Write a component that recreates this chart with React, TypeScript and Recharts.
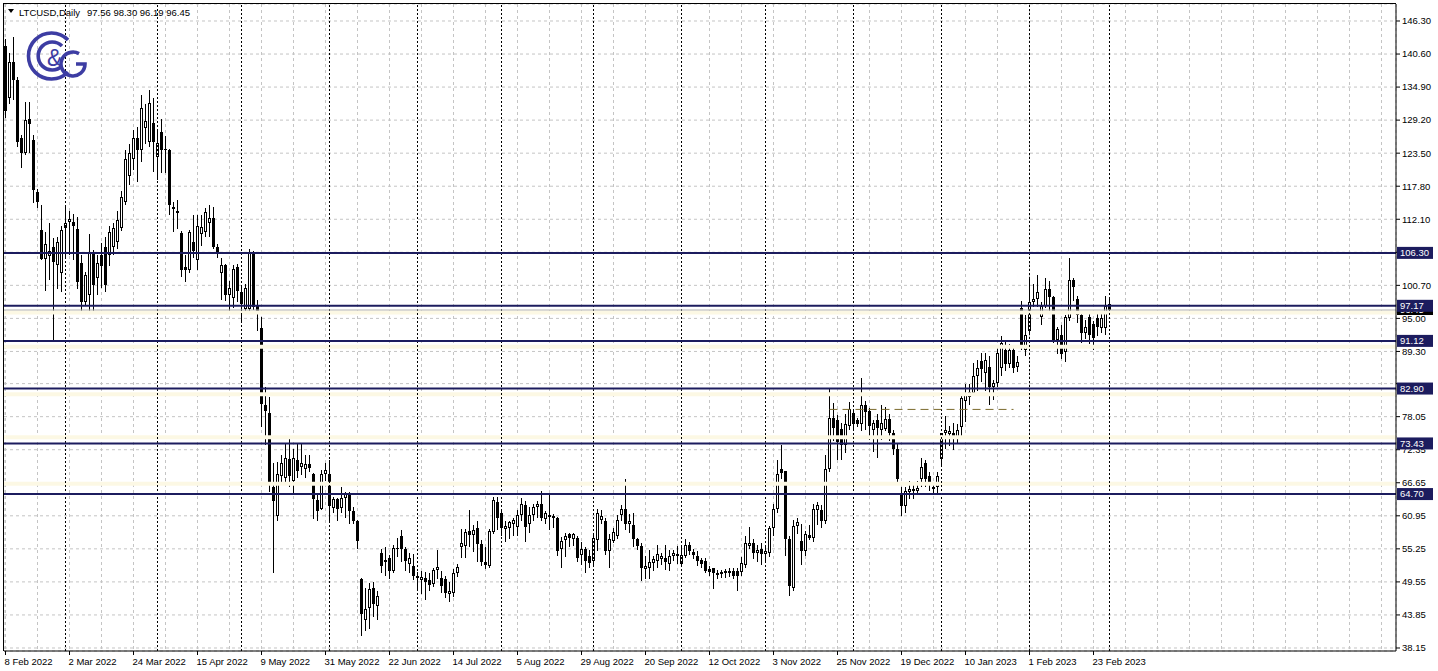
import React from 'react';
import { ComposedChart, Bar, XAxis, YAxis, CartesianGrid, ReferenceLine } from 'recharts';

const FONT = '"Liberation Sans", Arial, sans-serif';
const NAVY = '#1c1c5e';

// time axis labels, one every 16 daily bars (weekdays only)
const dateLabels = [
  '8 Feb 2022', '2 Mar 2022', '24 Mar 2022', '15 Apr 2022', '9 May 2022', '31 May 2022',
  '22 Jun 2022', '14 Jul 2022', '5 Aug 2022', '29 Aug 2022', '20 Sep 2022', '12 Oct 2022',
  '3 Nov 2022', '25 Nov 2022', '19 Dec 2022', '10 Jan 2023', '1 Feb 2023', '23 Feb 2023',
];

const opens = [
  142.0, 133.0, 139.2, 136.1, 126.1, 123.5, 129.4, 125.8, 116.8, 110.2,
  105.3, 105.8, 107.3, 104.2, 102.8, 110.6, 111.7, 111.6, 110.4, 104.5,
  97.8, 99.0, 106.4, 101.9, 105.9, 107.3, 105.9, 107.3, 108.1, 110.6,
  115.0, 119.5, 122.5, 126.1, 124.0, 127.9, 125.4, 128.7, 122.8, 127.1,
  124.3, 124.0, 114.2, 113.6, 109.7, 103.8, 103.3, 108.1, 105.0, 109.6,
  109.9, 111.4, 112.4, 107.3, 102.8, 104.2, 99.0, 98.5, 103.8, 99.5,
  96.7, 96.7, 106.4, 97.2, 93.4, 80.0, 78.6, 66.0, 61.0, 67.9,
  67.5, 70.8, 67.0, 70.5, 69.3, 69.0, 69.9, 68.2, 63.6, 62.2,
  68.2, 68.2, 62.3, 63.9, 62.3, 64.0, 64.8, 61.8, 60.1, 50.1,
  42.9, 45.1, 48.5, 45.4, 54.6, 52.9, 53.6, 51.5, 55.2, 57.5,
  55.3, 52.7, 52.3, 50.5, 49.9, 50.2, 49.8, 49.2, 51.6, 50.3,
  50.0, 47.5, 47.7, 51.0, 55.5, 55.8, 58.3, 57.7, 58.9, 56.1,
  52.9, 52.3, 58.1, 63.3, 61.4, 58.6, 58.8, 59.5, 59.1, 61.1,
  62.8, 59.5, 61.1, 62.4, 63.0, 60.4, 61.1, 60.5, 60.6, 55.3,
  56.8, 57.8, 57.0, 57.2, 54.2, 55.3, 54.0, 53.2, 56.7, 60.3,
  60.1, 54.9, 56.6, 57.5, 61.1, 62.2, 59.5, 59.4, 56.9, 55.8,
  51.7, 51.9, 52.8, 53.1, 53.5, 53.6, 52.6, 54.1, 54.0, 52.7,
  54.1, 56.0, 54.7, 54.1, 53.3, 53.2, 51.8, 51.9, 50.8, 50.9,
  51.0, 51.1, 51.5, 51.4, 51.2, 52.4, 55.7, 56.2, 54.6, 55.3,
  54.3, 54.6, 58.9, 62.2, 69.1, 68.7, 57.0, 48.5, 59.2, 56.6,
  54.9, 57.6, 57.1, 62.0, 61.9, 60.1, 69.1, 77.9, 77.4, 76.0,
  73.1, 76.5, 78.6, 77.5, 76.8, 80.0, 79.1, 75.8, 77.4, 75.8,
  76.0, 77.7, 75.3, 72.5, 64.6, 62.7, 65.0, 65.2, 65.3, 67.3,
  70.0, 67.9, 66.0, 65.9, 70.8, 75.3, 75.0, 75.3, 74.5, 76.2,
  80.8, 81.5, 82.2, 85.1, 87.7, 85.5, 86.7, 83.2, 83.8, 86.5,
  89.5, 87.2, 89.6, 86.6, 96.8, 89.6, 92.9, 97.8, 98.3, 95.2,
  97.2, 100.1, 98.7, 91.2, 92.1, 89.2, 95.0, 101.6, 98.4, 95.5,
  92.4, 95.2, 94.1, 95.0, 93.3, 93.3, 97.56,
];

const highs = [
  143.2, 140.8, 143.6, 136.6, 126.6, 132.3, 132.3, 126.6, 117.3, 114.5,
  109.9, 111.4, 108.8, 109.0, 111.0, 114.5, 113.5, 113.0, 112.5, 105.9,
  103.0, 109.5, 106.8, 106.0, 108.0, 109.0, 111.0, 111.5, 113.5, 117.0,
  124.0, 125.0, 127.5, 128.1, 133.5, 132.0, 134.4, 133.0, 127.5, 129.4,
  126.5, 124.2, 115.0, 115.5, 110.0, 105.9, 110.3, 112.8, 112.8, 112.8,
  114.0, 114.5, 114.3, 107.8, 105.5, 104.3, 101.5, 104.2, 104.3, 100.5,
  101.0, 107.0, 106.7, 98.1, 95.2, 83.1, 81.4, 70.0, 70.3, 71.5,
  73.4, 74.2, 72.5, 73.5, 73.5, 71.5, 71.5, 68.3, 64.5, 68.9,
  70.0, 70.5, 64.2, 64.0, 66.0, 65.0, 65.0, 62.5, 60.2, 50.2,
  48.5, 49.3, 49.5, 48.0, 55.3, 55.5, 54.2, 56.0, 57.2, 58.5,
  55.5, 54.5, 54.3, 51.3, 51.5, 51.3, 51.0, 52.0, 55.0, 51.5,
  50.5, 49.5, 51.7, 52.6, 58.6, 58.6, 61.9, 59.3, 60.0, 56.8,
  55.5, 58.6, 64.2, 64.2, 62.0, 60.0, 60.0, 60.5, 62.0, 64.1,
  63.5, 62.5, 63.0, 63.5, 65.3, 61.8, 64.5, 61.2, 60.8, 57.3,
  58.0, 58.0, 58.0, 57.4, 56.4, 55.6, 55.0, 57.6, 62.1, 62.0,
  60.5, 57.8, 58.9, 61.1, 62.8, 67.3, 61.2, 61.5, 57.2, 56.2,
  54.0, 55.0, 54.0, 56.0, 54.5, 55.9, 55.0, 55.0, 55.8, 55.7,
  56.9, 56.4, 55.2, 54.8, 53.6, 53.6, 52.3, 51.9, 51.6, 51.6,
  51.8, 52.0, 52.0, 52.0, 53.8, 57.4, 59.1, 57.0, 56.0, 56.2,
  56.0, 59.2, 63.0, 70.5, 73.1, 68.7, 57.5, 60.2, 60.6, 59.5,
  58.4, 59.3, 63.0, 63.4, 62.8, 71.5, 82.9, 80.4, 78.3, 77.0,
  78.5, 80.5, 79.0, 77.8, 84.8, 80.8, 79.5, 77.5, 78.5, 80.0,
  79.8, 78.5, 75.8, 73.5, 66.0, 66.0, 67.0, 66.6, 67.0, 71.0,
  70.6, 68.5, 66.5, 68.5, 75.3, 78.2, 76.5, 76.9, 76.8, 81.8,
  83.6, 83.6, 87.3, 87.9, 89.1, 89.1, 88.5, 84.4, 90.0, 92.0,
  91.0, 90.5, 90.2, 88.5, 98.0, 95.5, 102.1, 101.0, 102.5, 97.8,
  102.0, 101.5, 98.9, 93.5, 93.8, 95.5, 105.5, 102.0, 98.9, 95.8,
  94.8, 95.8, 94.6, 95.8, 96.0, 98.8, 98.30,
];

const lows = [
  129.5, 132.0, 132.6, 124.5, 121.0, 123.2, 123.5, 114.9, 114.0, 105.0,
  99.8, 101.6, 91.2, 100.1, 99.5, 105.3, 106.0, 105.0, 100.0, 96.0,
  97.3, 96.0, 95.9, 99.0, 100.3, 99.5, 104.0, 106.0, 107.0, 110.0,
  114.5, 118.0, 120.6, 118.5, 122.0, 125.0, 124.5, 120.2, 118.8, 120.1,
  120.1, 112.9, 109.9, 110.5, 102.1, 101.2, 102.8, 105.5, 103.3, 107.5,
  109.0, 109.0, 107.0, 105.5, 98.1, 98.0, 96.0, 96.8, 97.8, 94.5,
  96.0, 96.0, 96.5, 92.9, 76.2, 73.1, 65.0, 51.0, 60.0, 66.5,
  66.5, 66.0, 64.5, 67.5, 68.0, 67.5, 68.5, 60.4, 60.0, 62.0,
  67.0, 60.0, 61.5, 60.0, 61.5, 60.5, 59.5, 59.5, 55.3, 40.2,
  41.1, 41.5, 43.5, 43.0, 51.0, 50.5, 50.0, 51.0, 53.8, 53.0,
  51.5, 51.0, 49.8, 48.2, 47.5, 46.5, 48.0, 48.6, 50.0, 47.7,
  46.7, 46.0, 47.0, 50.4, 53.6, 53.6, 55.6, 54.7, 52.9, 52.3,
  51.8, 52.0, 57.8, 58.5, 57.5, 56.5, 57.0, 57.5, 57.5, 60.0,
  56.5, 58.0, 60.0, 60.5, 60.0, 59.5, 58.5, 58.8, 54.0, 52.0,
  53.8, 55.5, 55.8, 53.0, 52.5, 51.0, 52.0, 52.4, 54.8, 59.5,
  54.2, 52.0, 56.2, 57.0, 60.0, 58.5, 58.0, 55.5, 55.0, 49.7,
  50.0, 50.0, 51.5, 52.0, 52.4, 51.6, 51.5, 53.2, 52.6, 52.4,
  53.6, 54.2, 53.5, 52.3, 52.0, 51.0, 50.6, 48.4, 50.0, 50.3,
  50.3, 50.4, 50.0, 47.9, 50.6, 52.0, 55.2, 53.5, 53.0, 52.5,
  52.8, 53.9, 57.5, 61.5, 67.3, 54.1, 47.1, 48.0, 57.8, 52.4,
  54.0, 56.8, 56.5, 59.4, 58.9, 59.5, 68.5, 73.8, 70.5, 70.5,
  71.8, 75.8, 75.5, 76.2, 75.5, 75.8, 74.0, 72.0, 71.0, 74.0,
  75.5, 73.8, 71.5, 66.3, 60.9, 61.5, 63.8, 63.8, 64.5, 66.0,
  66.0, 65.2, 64.5, 64.5, 69.5, 72.5, 73.0, 72.3, 73.5, 74.8,
  77.2, 80.0, 81.6, 82.4, 84.0, 82.5, 80.0, 80.9, 83.2, 85.0,
  86.0, 86.5, 85.5, 85.8, 89.5, 88.5, 92.3, 97.0, 97.0, 93.8,
  96.8, 96.0, 90.8, 88.8, 88.0, 87.5, 94.5, 98.0, 94.2, 90.8,
  91.5, 90.5, 89.5, 92.0, 92.5, 92.2, 96.19,
];

const closes = [
  130.8, 139.2, 136.1, 125.4, 123.5, 129.2, 128.5, 117.1, 115.0, 105.2,
  107.8, 106.7, 104.7, 108.1, 110.2, 111.4, 112.1, 111.0, 101.2, 97.8,
  102.4, 106.4, 100.7, 104.5, 104.0, 100.7, 109.9, 110.6, 112.0, 115.9,
  122.5, 123.5, 126.1, 124.0, 131.3, 129.1, 132.1, 125.4, 125.2, 124.0,
  124.0, 114.5, 113.9, 113.1, 103.3, 103.3, 109.9, 106.7, 111.0, 110.8,
  113.3, 112.4, 107.3, 106.2, 104.2, 99.0, 100.2, 103.6, 99.8, 97.5,
  100.2, 106.4, 96.9, 96.0, 80.3, 79.1, 66.2, 63.5, 68.2, 70.0,
  71.0, 67.9, 71.0, 68.7, 70.1, 69.8, 69.2, 63.9, 61.8, 68.2,
  68.9, 62.7, 63.8, 62.2, 64.0, 64.8, 61.8, 60.1, 56.6, 44.0,
  44.8, 48.4, 45.8, 47.1, 52.3, 53.3, 51.5, 55.4, 55.4, 55.3,
  53.2, 53.6, 50.6, 50.2, 50.4, 49.5, 49.0, 51.6, 52.1, 48.9,
  47.7, 48.0, 51.0, 52.1, 56.2, 58.1, 57.6, 58.5, 56.1, 52.9,
  52.5, 58.4, 63.7, 60.6, 58.9, 59.2, 59.8, 60.3, 61.1, 63.0,
  59.1, 61.1, 62.5, 63.0, 60.6, 61.4, 60.7, 61.0, 54.9, 56.6,
  57.4, 57.2, 57.8, 53.7, 55.2, 53.2, 52.8, 57.2, 61.4, 61.0,
  54.9, 56.9, 58.2, 60.3, 62.2, 59.5, 60.0, 56.9, 55.8, 52.0,
  52.3, 53.0, 53.5, 54.3, 54.0, 53.0, 54.0, 54.6, 54.4, 54.2,
  56.0, 54.8, 54.2, 53.1, 52.7, 51.5, 51.2, 51.0, 51.1, 51.2,
  51.4, 51.5, 50.6, 50.5, 52.8, 56.2, 56.3, 54.6, 55.0, 54.4,
  54.8, 58.9, 62.2, 68.2, 68.4, 57.0, 48.9, 59.2, 59.8, 54.9,
  57.8, 57.1, 62.2, 62.8, 60.1, 69.1, 77.9, 76.1, 73.6, 73.1,
  76.8, 79.4, 76.8, 76.8, 80.0, 78.9, 76.5, 77.0, 76.1, 77.0,
  77.7, 75.3, 72.5, 67.3, 62.7, 65.3, 65.6, 65.6, 65.8, 69.4,
  67.3, 66.2, 65.6, 67.9, 75.3, 75.7, 75.6, 74.5, 75.7, 81.2,
  81.9, 82.3, 85.1, 86.5, 86.3, 87.9, 83.2, 83.8, 89.1, 90.7,
  87.2, 89.5, 86.5, 87.4, 90.2, 92.2, 97.8, 98.3, 99.6, 97.2,
  100.1, 98.7, 91.2, 93.2, 88.9, 95.2, 101.6, 100.4, 95.5, 92.4,
  93.5, 92.1, 91.7, 93.5, 95.0, 97.2, 96.45,
];

const priceTicks = [
  146.3, 140.6, 134.9, 129.2, 123.5, 117.8, 112.1, 106.4, 100.7, 95.0,
  89.3, 83.75, 78.05, 72.35, 66.65, 60.95, 55.25, 49.55, 43.85, 38.15,
];
// tick labels that sit fully under a price tag in the reference
const hiddenTicks = [106.4, 83.75];
const levels = [106.3, 97.17, 91.12, 82.9, 73.43, 64.7];
const bidPrice = 96.45;
const paleBands = [96.0, 90.1, 81.9, 74.5, 66.5];
// first bar of each month (period separators)
const monthStarts = [15, 38, 59, 81, 103, 124, 147, 169, 190, 212, 234, 256, 276];
const trendLine = { from: 206, to: 252, price: 79.3 };

const data = opens.map((o, i) => ({
  i,
  o,
  h: highs[i],
  l: lows[i],
  c: closes[i],
  range: [lows[i], highs[i]],
}));

const gridTicks = Array.from({ length: 44 }, (_, k) => k * 8);
const X_DOMAIN: [number, number] = [-0.375, 347.625];
const Y_DOMAIN: [number, number] = [37.63, 149.23];
const MARGIN = { top: 4, right: 0, bottom: 0, left: 4 };

function Candle(props: any) {
  const { x, y, width, height, payload } = props;
  if (!payload || x == null || y == null) return null;
  const { o, h, l, c } = payload;
  const cx = Math.round(x + width / 2 - 0.5) + 0.5;
  const k = h > l ? height / (h - l) : 0;
  const yO = y + (h - o) * k;
  const yC = y + (h - c) * k;
  const top = Math.round(Math.min(yO, yC));
  const bot = Math.max(Math.round(Math.max(yO, yC)), top + 1);
  const yH = Math.round(y);
  const yL = Math.round(y + height);
  const bull = c >= o;
  return (
    <g>
      <line x1={cx} x2={cx} y1={yH} y2={yL} stroke="#000" strokeWidth={1} />
      {bull && bot - top >= 3 ? (
        <rect x={cx - 1} y={top + 0.5} width={2} height={bot - top - 1} fill="#fff" stroke="#000" strokeWidth={1} />
      ) : (
        <rect x={cx - 1.5} y={top} width={3} height={bot - top} fill="#000" />
      )}
    </g>
  );
}

const XTick = (props: any) => {
  const { x, y, payload } = props;
  const idx = payload.value;
  if (idx % 16 !== 0) return null;
  const label = dateLabels[idx / 16];
  if (!label) return null;
  return (
    <g>
      <line x1={x} x2={x} y1={y} y2={y + 4} stroke="#000" />
      <text x={x - 1} y={y + 14} fontSize={9.5} fontFamily={FONT} fill="#000" textAnchor="start">
        {label}
      </text>
    </g>
  );
};

const YTick = (props: any) => {
  const { x, y, payload } = props;
  if (hiddenTicks.includes(payload.value)) return null;
  return (
    <text x={x} y={y} dy="0.355em" fontSize={9.5} fontFamily={FONT} fill="#000" textAnchor="start">
      {payload.value.toFixed(2)}
    </text>
  );
};

const priceTag = (value: number, fill: string, h = 13) => (props: any) => {
  const vb = props.viewBox;
  if (!vb) return null;
  const x = vb.x + vb.width + 1;
  const y = vb.y;
  return (
    <g>
      <rect x={x} y={y - h / 2} width={36} height={h} fill={fill} />
      <text x={x + 3} y={y} dy="0.36em" fontSize={9.5} fontFamily={FONT} fill="#fff">
        {value.toFixed(2)}
      </text>
    </g>
  );
};

const Logo = () => (
  <g fill="none" stroke="#3d3da3" strokeWidth={3.6}>
    <path d="M 68 40 A 23 23 0 1 0 68 72" />
    <path d="M 62 46 A 14 14 0 1 0 62 66" />
    <path d="M 79 53.6 A 12 12 0 1 0 85 64 L 76 64" />
    <text x={47} y={66} fontSize={23} fontFamily={FONT} fill="#3d3da3" stroke="none">
      &amp;
    </text>
  </g>
);

export default function App() {
  return (
    <div style={{ position: 'relative', width: 1438, height: 671, background: '#fff' }}>
      <style>{'body{margin:0;}'}</style>
      <ComposedChart width={1438} height={671} data={data} margin={MARGIN}>
        <CartesianGrid stroke="#c4c4c4" strokeDasharray="3 3" />
        <XAxis
          type="number"
          dataKey="i"
          domain={X_DOMAIN}
          allowDataOverflow
          ticks={gridTicks}
          interval={0}
          height={20}
          tickLine={false}
          tickSize={0}
          tickMargin={0}
          axisLine={{ stroke: '#000' }}
          tick={<XTick />}
        />
        <YAxis
          orientation="right"
          type="number"
          domain={Y_DOMAIN}
          allowDataOverflow
          ticks={priceTicks}
          interval={0}
          width={42}
          tickSize={4}
          tickMargin={2}
          axisLine={{ stroke: '#000' }}
          tickLine={{ stroke: '#000' }}
          tick={<YTick />}
        />
        {paleBands.map((p) => (
          <ReferenceLine key={'band' + p} y={p} stroke="#fcf8e4" strokeWidth={4} />
        ))}
        <Bar dataKey="range" barSize={3} isAnimationActive={false} shape={(p: any) => <Candle {...p} />} />
        {monthStarts.map((m) => (
          <ReferenceLine key={'sep' + m} x={m} stroke="#000" strokeDasharray="2 2" />
        ))}
        <ReferenceLine
          segment={[
            { x: trendLine.from, y: trendLine.price },
            { x: trendLine.to, y: trendLine.price },
          ]}
          stroke="#7a6a2c"
          strokeDasharray="8 5"
        />
        <ReferenceLine y={bidPrice} stroke="#b4b4b4" />
        {levels.map((p) => (
          <ReferenceLine key={'lvl' + p} y={p} stroke={NAVY} strokeWidth={2} />
        ))}
      </ComposedChart>
      {/* price tags on a second layer so they cover the axis labels */}
      <div style={{ position: 'absolute', left: 0, top: 0, pointerEvents: 'none' }}>
        <ComposedChart width={1438} height={671} data={data} margin={MARGIN}>
          <XAxis type="number" dataKey="i" domain={X_DOMAIN} allowDataOverflow height={20} tick={false} axisLine={false} tickLine={false} />
          <YAxis orientation="right" type="number" domain={Y_DOMAIN} allowDataOverflow width={42} tick={false} axisLine={false} tickLine={false} />
          <ReferenceLine y={bidPrice} stroke="none" label={priceTag(bidPrice, '#000', 10)} />
          {levels.map((p) => (
            <ReferenceLine key={'tag' + p} y={p} stroke="none" label={priceTag(p, NAVY, 12)} />
          ))}
        </ComposedChart>
      </div>
      <svg width={1438} height={671} style={{ position: 'absolute', left: 0, top: 0, pointerEvents: 'none' }}>
        <line x1={3.5} x2={3.5} y1={3} y2={651} stroke="#000" />
        <line x1={3} x2={1396} y1={3.5} y2={3.5} stroke="#000" />
        <polygon points="8,9 14,9 11,13" fill="#000" />
        <text x={19} y={16} fontSize={9.5} fontFamily={FONT} fill="#000">
          LTCUSD,Daily
        </text>
        <text x={87} y={16} fontSize={9.5} fontFamily={FONT} fill="#000">
          97.56 98.30 96.19 96.45
        </text>
        <Logo />
      </svg>
    </div>
  );
}
